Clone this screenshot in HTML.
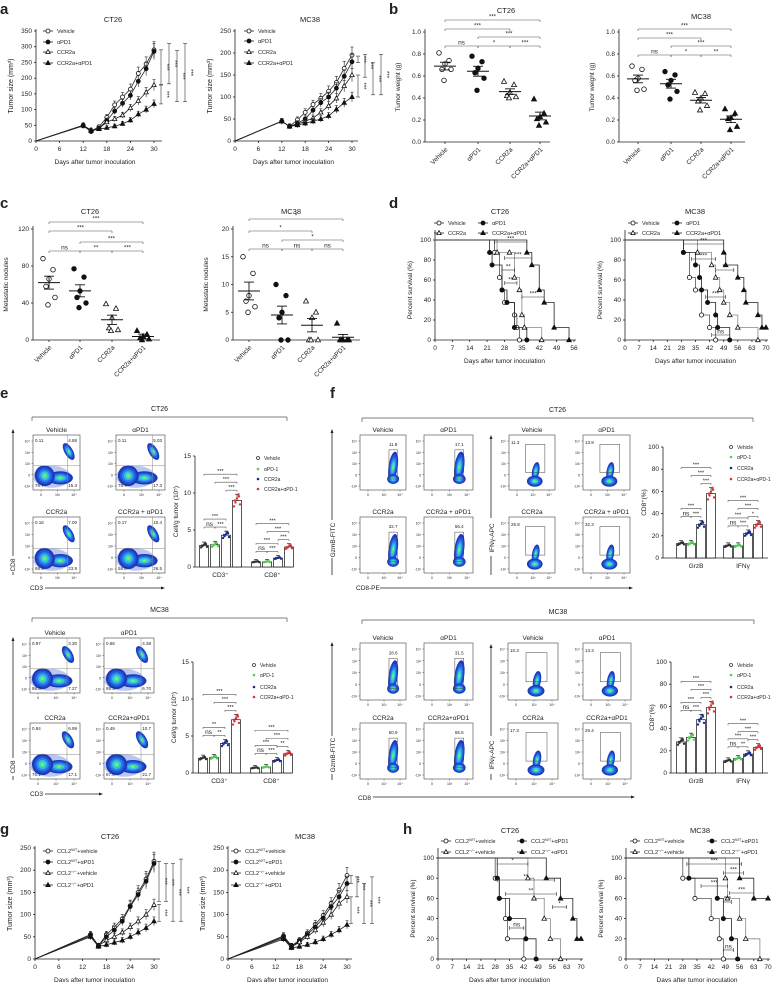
<!DOCTYPE html>
<html><head><meta charset="utf-8"><style>
html,body{margin:0;padding:0;background:#fff;}
svg{display:block;font-family:"Liberation Sans",Arial,sans-serif;}
text{fill:#222;}
</style></head><body>
<svg id="c" xmlns="http://www.w3.org/2000/svg" width="772" height="982" viewBox="0 0 772 982"></svg>
<script>
let s='';
function L(x1,y1,x2,y2,c,w){s+=`<line x1="${x1}" y1="${y1}" x2="${x2}" y2="${y2}" stroke="${c||'#222'}" stroke-width="${w||0.8}"/>`;}
function T(x,y,t,fs,a,ex){s+=`<text x="${x}" y="${y}" font-size="${fs||6}" text-anchor="${a||'middle'}" ${ex||''}>${t}</text>`;}
function TR(x,y,t,fs){T(x,y,t,fs,'middle',`transform="rotate(-90 ${x} ${y})"`);}
function M(tp,x,y,r){r=r||2.2;const f=tp[0]=='f'?'#111':'#fff';
 if(tp[1]=='c')s+=`<circle cx="${x}" cy="${y}" r="${r}" fill="${f}" stroke="#111" stroke-width="0.8"/>`;
 else s+=`<polygon points="${x},${y-r*1.2} ${x-r*1.1},${y+r*0.8} ${x+r*1.1},${y+r*0.8}" fill="${f}" stroke="#111" stroke-width="0.8"/>`;}
function P(t,x,y){T(x,y,t,15,'start','font-weight="bold"');}
const TPS=['oc','fc','ot','ft'];
function sup(a,b,c){return `${a}<tspan dy="-2" font-size="4">${b}</tspan><tspan dy="2">${c}</tspan>`;}

function growth(o){
 const X=d=>o.x0+d*(o.x30-o.x0)/30, Y=v=>o.y0-(v/o.ymax)*(o.y0-o.yt);
 L(o.x0,o.y0,o.x0,o.yt-2);L(o.x0,o.y0,o.xe,o.y0);
 for(let v=0;v<=o.ymax;v+=o.ystep){L(o.x0-2,Y(v),o.x0,Y(v));T(o.x0-4,Y(v)+2,v,6.5,'end');}
 for(let d=0;d<=30;d+=6){L(X(d),o.y0,X(d),o.y0+2);T(X(d),o.y0+10,d,6.5);}
 T((o.x0+o.x30)/2,o.y0+23,'Days after tumor inoculation',6.5);
 TR(o.x0-23,(o.y0+o.yt)/2,'Tumor size (mm³)',7);
 T(o.tx,o.yt-9,o.title,7.5);
 o.data.forEach((ser,i)=>{
  s+=`<polyline fill="none" stroke="#222" stroke-width="0.8" points="${ser.map((v,j)=>X(o.days[j])+','+Y(v)).join(' ')}"/>`;
  ser.forEach((v,j)=>{if(j>0){const e=v*0.08+3,x=X(o.days[j]);L(x,Y(v+e),x,Y(v-e),'#222',0.6);L(x-1.5,Y(v+e),x+1.5,Y(v+e),'#222',0.6);}});
  ser.forEach((v,j)=>{if(j>0)M(TPS[i],X(o.days[j]),Y(v),2);});
 });
 o.leg.forEach((t,i)=>{const y=o.ly[i];L(o.lx-5,y,o.lx+5,y);M(TPS[i],o.lx,y,2);T(o.lx+9,y+2,t,5.5,'start');});
 o.br.forEach(b=>{const[x,a,c]=b;L(x,Y(a),x,Y(c),'#333',0.6);L(x-2,Y(a),x+2,Y(a),'#333',0.6);L(x-2,Y(c),x+2,Y(c),'#333',0.6);
  const m=(Y(a)+Y(c))/2;T(x+4,m,'***',6,'middle',`transform="rotate(90 ${x+4} ${m})"`);});
}

function scat(o){
 const Y=v=>o.y0-v/o.vmax*(o.y0-o.yt);
 L(o.ax,o.y0,o.ax,o.yt-3);L(o.ax,o.y0,o.xe,o.y0);
 o.ticks.forEach(v=>{L(o.ax-2,Y(v),o.ax,Y(v));T(o.ax-4,Y(v)+2,o.fmt(v),6.5,'end');});
 TR(o.ax-25,(o.y0+o.yt)/2,o.ylab,6.5);
 T(o.tx,o.ty,o.title,7.5);
 const jit=[-6,4,0,-3,6,-1];
 o.cats.forEach((cx,i)=>{
  L(cx,o.y0,cx,o.y0+2);
  const lab=o.labs[i];s+=`<text x="${cx+3}" y="${o.y0+8}" font-size="6.5" text-anchor="end" transform="rotate(-45 ${cx+3} ${o.y0+8})">${lab}</text>`;
  const d=o.data[i];d.forEach((v,k)=>M(TPS[i],cx+jit[k],Y(v),2.3));
  const m=d.reduce((a,b)=>a+b)/d.length;const se=o.sem[i];
  L(cx-11,Y(m),cx+11,Y(m),'#111',1);L(cx,Y(m+se),cx,Y(m-se),'#111',0.9);
  L(cx-5,Y(m+se),cx+5,Y(m+se),'#111',0.9);L(cx-5,Y(m-se),cx+5,Y(m-se),'#111',0.9);
 });
 o.br.forEach(b=>{const[i,j,y,t]=b,x1=o.cats[i],x2=o.cats[j];L(x1,y,x2,y,'#555',0.6);L(x1,y,x1,y+2,'#555',0.6);L(x2,y,x2,y+2,'#555',0.6);
  T((x1+x2)/2,y-1.5,t,t=='ns'?6.5:6);});
}

function surv(o){
 const X=d=>o.x0+d/o.dmax*(o.x1-o.x0), Y=p=>o.y0-p/100*(o.y0-o.yt);
 L(o.x0,o.y0,o.x0,o.yt-10);L(o.x0,o.y0,o.x1+2,o.y0);
 for(let p=0;p<=100;p+=20){L(o.x0-2,Y(p),o.x0,Y(p));T(o.x0-4,Y(p)+2,p,6.5,'end');}
 for(let d=0;d<=o.dmax;d+=o.dstep){L(X(d),o.y0,X(d),o.y0+2);T(X(d),o.y0+10,d,6.5);}
 T((o.x0+o.x1)/2,o.y0+23,'Days after tumor inoculation',6.5);
 TR(o.x0-23,(o.y0+o.yt)/2,'Percent survival (%)',6.5);
 T(o.tx,o.ty,o.title,7.5);
 o.cur.forEach((c,i)=>{let d=`M${o.x0},${Y(100)}`;c.forEach(p=>{d+=` H${X(p[0])} V${Y(p[1])}`;});
  s+=`<path d="${d}" fill="none" stroke="${i==2?'#888':(i==0?'#555':'#222')}" stroke-width="0.8"/>`;
  c.forEach(p=>M(TPS[i],X(p[0]),Y(p[1]),2.1));});
 o.leg.forEach((t,i)=>{const x=o.lx[i%2],y=o.ly[Math.floor(i/2)];L(x-5,y,x+5,y);M(TPS[i],x,y,2);T(x+9,y+2,t,5.5,'start');});
 o.br.forEach(b=>{const[a,c,y,t]=b;L(X(a),y,X(c),y,'#333',0.6);L(X(a),y-2,X(a),y+2,'#333',0.6);L(X(c),y-2,X(c),y+2,'#333',0.6);T((X(a)+X(c))/2,y-1.5,t,t=='ns'?6.5:6);});
}

const BC=['#1c38b8','#2456d6','#2a86ec','#31c2e6','#3fe0a6','#b8e24e'];
const BF=[1,0.8,0.6,0.42,0.26,0.12];
function blob(cx,cy,rx,ry,rot){BF.forEach((f,i)=>{s+=`<ellipse cx="${cx}" cy="${cy}" rx="${rx*f}" ry="${ry*f}" fill="${BC[i]}" transform="rotate(${rot||0} ${cx} ${cy})"/>`;});}
function blobOuter(cx,cy,rx,ry,rot){s+=`<ellipse cx="${cx}" cy="${cy}" rx="${rx}" ry="${ry}" fill="#b8c6f0" transform="rotate(${rot||0} ${cx} ${cy})"/>`;}
let clipN=0;
function box(x,y,w,h,title){s+=`<rect x="${x}" y="${y}" width="${w}" height="${h}" fill="#fff" stroke="#444" stroke-width="0.6"/>`;T(x+w/2,y-3,title,6.5);
 ['10⁴','10³','10²','0','-10²'].forEach((t,i)=>{const yy=y+6+i*(h-10)/4;L(x-1.5,yy,x,yy,'#444',0.5);T(x-3,yy+1.5,t,3.5,'end');});
 ['0','10³','10⁴'].forEach((t,i)=>{const xx=x+8+i*(w-14)/2;L(xx,y+h,xx,y+h+1.5,'#444',0.5);T(xx,y+h+6,t,3.5);});
 clipN++;s+=`<clipPath id="k${clipN}"><rect x="${x}" y="${y}" width="${w}" height="${h}"/></clipPath><g clip-path="url(#k${clipN})">`;}
function flowE(x,y,w,h,title,n){
 box(x,y,w,h,title);
 blobOuter(x+0.4*w,y+0.76*h,0.4*w,0.2*h,0);
 blob(x+0.58*w,y+0.78*h,0.27*w,0.12*h,0);
 blob(x+0.25*w,y+0.74*h,0.21*w,0.19*h,-20);
 blob(x+0.76*w,y+0.3*h,0.09*w,0.17*h,-30);
 s+='</g>';
 const qx=x+0.74*w,qy=y+0.56*h;L(qx,y,qx,y+h,'#888',0.5);L(x,qy,x+w,qy,'#888',0.5);
 T(x+2,y+7,n[0],4.5,'start');T(x+w-3,y+7,n[1],4.5,'end');T(x+2,y+h-3,n[2],4.5,'start');T(x+w-3,y+h-3,n[3],4.5,'end');
}
function flowF(x,y,w,h,title,n,kind){
 box(x,y,w,h,title);
 if(kind=='g'){blob(x+0.72*w,y+0.58*h,0.1*w,0.28*h,8);blob(x+0.72*w,y+0.8*h,0.13*w,0.09*h,0);s+='</g>';
  s+=`<rect x="${x+0.63*w}" y="${y+0.27*h}" width="${0.18*w}" height="${0.53*h}" fill="none" stroke="#444" stroke-width="0.5"/>`;T(x+0.72*w,y+0.2*h,n,4.5);}
 else{blob(x+0.58*w,y+0.66*h,0.08*w,0.17*h,10);blob(x+0.56*w,y+0.84*h,0.17*w,0.1*h,0);s+='</g>';
  s+=`<rect x="${x+0.36*w}" y="${y+0.17*h}" width="${0.42*w}" height="${0.51*h}" fill="none" stroke="#444" stroke-width="0.5"/>`;T(x+2,y+9,n,4.5,'start');}
}
const DC=['#333','#5c5','#1a2a8a','#d33'];
function bars(o){
 const Y=v=>o.y0-v/o.vmax*(o.y0-o.yt);
 L(o.ax,o.y0,o.ax,o.yt);L(o.ax,o.y0,o.xe,o.y0);
 for(let v=0;v<=o.vmax;v+=o.step){L(o.ax-2,Y(v),o.ax,Y(v));T(o.ax-4,Y(v)+2,v,6.5,'end');}
 TR(o.ax-17,(o.y0+o.yt)/2,o.ylab,6.5);
 const jx=[-3,-1.5,0,1.5,3,-2,2];
 o.groups.forEach((g,gi)=>{
  const tops=[];
  g.x.forEach((x,i)=>{const v=g.v[i],e=v*0.06+0.02*o.vmax;
   s+=`<rect x="${x-4.5}" y="${Y(v)}" width="9" height="${o.y0-Y(v)}" fill="#fff" stroke="#111" stroke-width="0.7"/>`;
   L(x,Y(v+e),x,Y(v),'#111',0.6);L(x-2,Y(v+e),x+2,Y(v+e),'#111',0.6);
   jx.forEach((j,k)=>{const vv=v*(1+((k*37)%7-3)*0.03);s+=`<circle cx="${x+j}" cy="${Y(vv)}" r="1.2" fill="${DC[i]}"/>`;});
   tops.push(Y(v+e));});
  const b=g.b,t3=tops[3]-4,t2=tops[2]-4,xs=g.x;
  const br=(i,j,y,t)=>{L(xs[i],y,xs[j],y,'#555',0.6);L(xs[i],y,xs[i],y+1.5,'#555',0.6);L(xs[j],y,xs[j],y+1.5,'#555',0.6);T((xs[i]+xs[j])/2,y-1.2,t,t=='ns'?6.5:5.5);};
  br(2,3,t3,b[0]);br(1,3,t3-8,b[1]);br(0,3,t3-16,b[2]);
  br(0,1,t2,'ns');br(1,2,t2,b[3]);br(0,2,t2-8,b[4]);
  T((g.x[0]+g.x[3])/2,o.y0+10,g.lab,6.5);
 });
 o.leg.forEach((t,i)=>{const y=o.ly[i];if(i==0)s+=`<circle cx="${o.lx}" cy="${y}" r="1.5" fill="#fff" stroke="#333" stroke-width="0.8"/>`;else s+=`<circle cx="${o.lx}" cy="${y}" r="1.3" fill="${DC[i]}"/>`;T(o.lx+6,y+2,t,5,'start');});
}
function bigBr(x1,x2,y,t){L(x1,y,x2,y,'#555',0.7);L(x1,y,x1,y+4,'#555',0.7);L(x2,y,x2,y+4,'#555',0.7);T((x1+x2)/2,y-6,t,7);}
function arrowV(x,y1,y2){L(x,y1,x,y2,'#222',0.8);s+=`<polygon points="${x},${y2-3} ${x-1.5},${y2+1} ${x+1.5},${y2+1}" fill="#222"/>`;}
function arrowH(x1,x2,y){L(x1,y,x2,y,'#222',0.8);s+=`<polygon points="${x2+3},${y} ${x2-1},${y-1.5} ${x2-1},${y+1.5}" fill="#222"/>`;}

// ===== a =====
P('a',0,14);
const LA=['Vehicle','αPD1','CCR2a','CCR2a+αPD1'];
const dA=[0,12,14,16,18,20,22,24,26,28,30];
growth({x0:36,x30:154,xe:162,y0:141,yt:31,ymax:350,ystep:50,days:dA,title:'CT26',tx:113,
 data:[[0,50,32,45,75,115,140,165,215,245,290],[0,48,30,40,65,95,120,145,190,230,285],[0,50,33,40,60,70,82,105,128,155,178],[0,50,35,38,42,47,55,66,85,100,118]],
 leg:LA,lx:48,ly:[31,42,52,63],br:[[161,290,180],[161,178,118],[169,310,182],[177,288,125],[185,310,125]]});
growth({x0:235,x30:352,xe:358,y0:141,yt:31,ymax:250,ystep:50,days:dA,title:'MC38',tx:310,
 data:[[0,45,33,48,65,83,97,113,133,165,195],[0,45,33,40,50,70,87,100,120,147,180],[0,45,33,38,45,52,65,80,97,125,150],[0,45,33,36,40,45,50,57,72,87,100]],
 leg:LA,lx:249,ly:[31,41,52,63],br:[[358,193,178],[358,150,100],[365,197,145],[373,178,105],[381,197,105]]});

// ===== b =====
P('b',389,14);
const LB=['Vehicle','αPD1','CCR2a','CCR2a+αPD1'];
scat({ax:425,y0:142,yt:32,vmax:1,xe:550,ticks:[0,.2,.4,.6,.8,1],fmt:v=>v.toFixed(1),ylab:'Tumor weight (g)',title:'CT26',tx:506,ty:13,
 cats:[445,478,510,540],labs:LB,
 data:[[.81,.74,.71,.66,.66,.56],[.78,.73,.67,.63,.58,.47],[.55,.52,.45,.42,.41,.40],[.39,.26,.23,.21,.18,.15]],sem:[.035,.045,.025,.035],
 br:[[0,3,20,'***'],[0,2,29,'***'],[1,3,37,'***'],[0,1,46,'ns'],[1,2,46,'*'],[2,3,46,'***']]});
scat({ax:619,y0:142,yt:32,vmax:1,xe:745,ticks:[0,.2,.4,.6,.8,1],fmt:v=>v.toFixed(1),ylab:'Tumor weight (g)',title:'MC38',tx:701,ty:19,
 cats:[638,671,701,731],labs:LB,
 data:[[.69,.66,.58,.56,.48,.47],[.64,.61,.56,.52,.46,.39],[.45,.44,.40,.37,.33,.29],[.30,.26,.22,.21,.14,.11]],sem:[.035,.04,.025,.03],
 br:[[0,3,29,'***'],[0,2,38,'***'],[1,3,46,'***'],[0,1,55,'ns'],[1,2,55,'*'],[2,3,55,'**']]});

// ===== c =====
P('c',0,208);
scat({ax:33,y0:340,yt:229,vmax:120,xe:160,ticks:[0,40,80,120],fmt:v=>v,ylab:'Metastatic nodules',title:'CT26',tx:90,ty:214,
 cats:[49,80,112,143],labs:LB,
 data:[[88,76,66,58,46,38],[77,68,53,46,40,35],[39,34,24,13,11,10],[10,6,4,2,1,0]],sem:[7,6.5,5,2.5],
 br:[[0,3,222,'***'],[0,2,231,'***'],[1,3,242,'***'],[0,1,251,'ns'],[1,2,251,'**'],[2,3,251,'***']]});
scat({ax:233,y0:340,yt:229,vmax:20,xe:360,ticks:[0,5,10,15,20],fmt:v=>v,ylab:'Metastatic nodules',title:'MC38',tx:291,ty:214,
 cats:[249,282,312,343],labs:LB,
 data:[[15,12,8,7,6,5],[10,8,5,4,0,0],[7,5,4,0,0,0],[3,0,0,0,0,0]],sem:[1.6,1.6,1.2,.5],
 br:[[0,3,219,'*'],[0,2,231,'*'],[1,3,240,'*'],[0,1,249,'ns'],[1,2,249,'ns'],[2,3,249,'ns']]});

// ===== d =====
P('d',389,208);
surv({x0:435,x1:574,dmax:56,dstep:7,y0:340,yt:240,title:'CT26',tx:500,ty:214,
 cur:[[[24,87.5],[26,62.5],[27,50],[28,37.5],[32,25],[33,12.5],[34,0]],
  [[22,87.5],[23,75],[27,50],[29,37.5],[32,12.5],[37,0]],
  [[25,87.5],[30,87.5],[32,62.5],[34,50],[35,25],[36,12.5],[43,0]],
  [[37,87.5],[39,75],[42,50],[44,37.5],[48,12.5],[54,0]]],
 leg:['Vehicle','αPD1','CCR2a','CCR2a+αPD1'],lx:[439,483],ly:[223,233],
 br:[[24,37,242,'***'],[28,39,258,'***'],[27,32,270,'**'],[28,33,283,'**'],[35,44,297,'***']]});
surv({x0:625,x1:766,dmax:70,dstep:7,y0:340,yt:240,title:'MC38',tx:695,ty:214,
 cur:[[[29,87.5],[32,62.5],[35,50],[38,25],[42,12.5],[45,0]],
  [[29,87.5],[35,75],[37,62.5],[38,50],[41,37.5],[45,25],[46,12.5],[52,0]],
  [[36,87.5],[43,75],[45,62.5],[47,50],[49,37.5],[52,25],[56,12.5],[66,0]],
  [[49,87.5],[50,75],[56,62.5],[59,50],[60,37.5],[66,25],[68,12.5],[70,12.5]]],
 leg:['Vehicle','αPD1','CCR2a','CCR2a+αPD1'],lx:[633,677],ly:[223,233],
 br:[[29,49,244,'***'],[33,45,259,'***'],[45,54,270,'**'],[40,50,297,'***'],[43,52,335,'ns']]});

// ===== e =====
P('e',0,398);
bigBr(32,287,417,'CT26');
flowE(33,435,47,55,'Vehicle',['0.11','4.88','76.7','15.3']);
flowE(116,435,49,55,'αPD1',['0.11','5.03','78.7','17.3']);
flowE(33,517,47,56,'CCR2a',['0.16','7.00','68.9','23.9']);
flowE(116,517,49,56,'CCR2a + αPD1',['0.17','10.4','58.0','26.5']);
arrowV(13,575,432);
s+=`<rect x="8" y="556" width="10" height="16" fill="#fff"/>`;TR(15,565,'CD8',6.5);
T(30,590,'CD3',6.5,'start');arrowH(45,162,588);
const LE=['Vehicle','αPD-1','CCR2a','CCR2a+αPD-1'];
bars({ax:195,xe:292,y0:567,yt:456,vmax:15,step:5,ylab:'Cell/g tumor (10⁵)',lx:258,ly:[458,469,479,489],leg:LE,
 groups:[{x:[204,215,226,237],v:[2.9,3.0,4.3,9.0],b:['***','***','***','***','***'],lab:'CD3⁺'},
         {x:[256,267,278,289],v:[0.7,0.7,1.2,2.7],b:['***','***','***','***','***'],lab:'CD8⁺'}]});

bigBr(32,287,618,'MC38');
flowE(30,638,50,55,'Vehicle',['0.97','3.30','88.5','7.27']);
flowE(104,638,50,55,'αPD1',['0.66','4.38','88.3','6.70']);
flowE(30,723,50,56,'CCR2a',['0.84','6.99','76.1','17.1']);
flowE(104,723,50,56,'CCR2a+αPD1',['0.49','10.7','67.0','21.7']);
arrowV(13,780,640);s+=`<rect x="8" y="758" width="10" height="18" fill="#fff"/>`;TR(15,767,'CD8',6.5);
T(30,796,'CD3',6.5,'start');arrowH(45,100,794);
bars({ax:193,xe:292,y0:773,yt:662,vmax:15,step:5,ylab:'Cell/g tumor (10⁵)',lx:254,ly:[665,675,687,697],leg:LE,
 groups:[{x:[203,214,225,236],v:[2.0,2.1,4.0,7.2],b:['***','***','***','**','**'],lab:'CD3⁺'},
         {x:[255,266,277,288],v:[0.7,0.8,1.7,2.6],b:['**','***','***','***','***'],lab:'CD8⁺'}]});

// ===== f =====
P('f',330,398);
bigBr(362,753,418,'CT26');
flowF(360,435,46,55,'Vehicle','11.8','g');
flowF(424,435,49,55,'αPD1','17.1','g');
flowF(360,517,46,56,'CCR2a','32.7','g');
flowF(424,517,49,56,'CCR2a + αPD1','56.4','g');
flowF(509,435,46,55,'Vehicle','11.3','i');
flowF(583,435,47,55,'αPD1','13.9','i');
flowF(509,517,46,56,'CCR2a','25.8','i');
flowF(583,517,47,56,'CCR2a + αPD1','32.3','i');
arrowV(332,575,432);s+=`<rect x="326" y="520" width="12" height="38" fill="#fff"/>`;TR(335,540,'GzmB-FITC',6.5);
arrowV(491,575,438);s+=`<rect x="485" y="518" width="12" height="38" fill="#fff"/>`;TR(494,538,'IFNγ-APC',6.5);
T(356,590,'CD8-PE',6.5,'start');arrowH(380,630,588);
const LF=['Vehicle','αPD-1','CCR2a','CCR2a+αPD-1'];
bars({ax:663,xe:768,y0:558,yt:447,vmax:100,step:20,ylab:'CD8⁺(%)',lx:731,ly:[447,457,468,479],leg:LF,
 groups:[{x:[681,691,701,711],v:[13,13,30,58],b:['***','***','***','***','***'],lab:'GrzB'},
         {x:[728,738,748,758],v:[11,11,22,30],b:['*','***','***','***','***'],lab:'IFNγ'}]});

bigBr(362,754,620,'MC38');
flowF(360,643,46,57,'Vehicle','28.6','g');
flowF(424,643,49,57,'αPD1','31.5','g');
flowF(360,723,46,56,'CCR2a','50.9','g');
flowF(424,723,49,56,'CCR2a+αPD1','65.5','g');
flowF(508,643,50,57,'Vehicle','10.3','i');
flowF(583,643,48,57,'αPD1','13.3','i');
flowF(508,723,50,56,'CCR2a','17.3','i');
flowF(583,723,48,56,'CCR2a+αPD1','25.4','i');
arrowV(332,780,645);s+=`<rect x="326" y="736" width="12" height="38" fill="#fff"/>`;TR(335,755,'GzmB-FITC',6.5);
arrowV(491,780,647);s+=`<rect x="485" y="736" width="12" height="38" fill="#fff"/>`;TR(494,755,'IFNγ-APC',6.5);
T(358,800,'CD8',6.5,'start');arrowH(373,632,797);
bars({ax:671,xe:768,y0:773,yt:662,vmax:100,step:20,ylab:'CD8⁺(%)',lx:731,ly:[665,675,687,697],leg:LF,
 groups:[{x:[681,691,701,711],v:[28,32,48,59],b:['***','***','***','***','***'],lab:'GrzB'},
         {x:[728,738,748,758],v:[11,13,17,23],b:['***','***','***','**','***'],lab:'IFNγ'}]});

// ===== g =====
P('g',0,834);
const LG=[sup('CCL2','WT','+vehicle'),sup('CCL2','WT','+αPD1'),sup('CCL2','−/−','+vehicle'),sup('CCL2','−/−','+αPD1')];
const dG=[0,14,16,18,20,22,24,26,28,30];
growth({x0:35,x30:154,xe:160,y0:959,yt:848,ymax:250,ystep:50,days:dG,title:'CT26',tx:110,
 data:[[0,55,30,55,72,90,120,150,180,220],[0,55,30,50,65,85,118,145,175,215],[0,52,30,42,50,60,72,85,100,122],[0,50,28,32,37,42,50,60,70,85]],
 leg:LG,lx:48,ly:[851,862,873,885],br:[[159,220,130],[159,123,85],[166,215,130],[173,215,85],[181,225,85]]});
growth({x0:228,x30:347,xe:352,y0:959,yt:848,ymax:250,ystep:50,days:dG,title:'MC38',tx:305,
 data:[[0,52,30,42,58,78,98,125,155,188],[0,50,28,40,55,72,92,118,140,170],[0,48,27,38,50,65,82,100,125,140],[0,45,25,28,32,38,45,55,65,77]],
 leg:LG,lx:236,ly:[851,862,873,885],br:[[351,188,170],[351,140,80],[357,185,140],[364,170,80],[372,185,80]]});

// ===== h =====
P('h',403,834);
surv({x0:438,x1:581,dmax:70,dstep:7,y0:959,yt:858,title:'CT26',tx:510,ty:833,
 cur:[[[28,80],[30,60],[33,40],[34,20],[42,0]],[[29,80],[30,60],[35,40],[43,20],[48,0]],[[44,80],[47,60],[52,40],[55,20],[60,0]],[[53,80],[60,60],[66,40],[68,20],[70,20]]],
 leg:LG,lx:[446,522],ly:[841,852],
 br:[[29,44,864,'*'],[29,57,880,'**'],[33,58,894,'**'],[56,63,907,'*'],[35,42,928,'ns']]});
surv({x0:626,x1:768,dmax:70,dstep:7,y0:959,yt:858,title:'MC38',tx:700,ty:833,
 cur:[[[28,80],[34,60],[42,40],[46,20],[48,0]],[[31,80],[45,60],[48,40],[52,20],[55,0]],[[49,80],[50,60],[56,40],[59,20],[66,0]],[[56,80],[63,60],[70,60]]],
 leg:LG,lx:[635,712],ly:[841,852],
 br:[[30,57,864,'***'],[48,58,873,'***'],[37,50,886,'***'],[51,63,893,'***'],[48,52,902,'***'],[48,53,950,'ns']]});

document.getElementById('c').innerHTML=s;
</script>
</body></html>
